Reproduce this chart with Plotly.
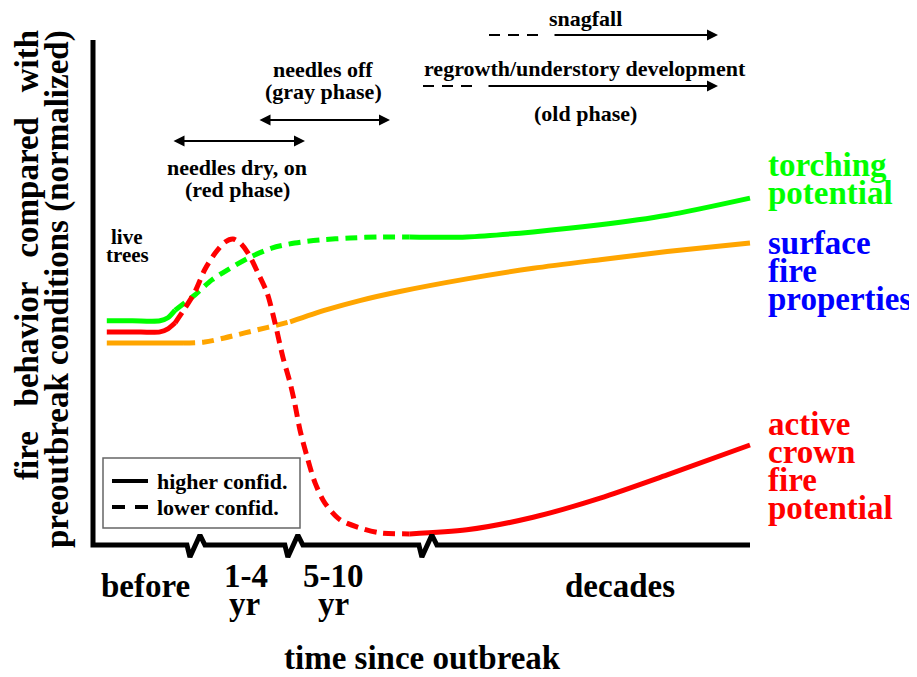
import plotly.graph_objects as go

FONT = "Liberation Serif"
GREEN = "#00ff00"
ORANGE = "#ffa500"
RED = "#ff0000"
BLUE = "#0000ff"

# ---------------- data (time axis 0-100 = before .. decades, y normalized 0-100) -------------
# torching potential (green)
torch_x_solid1 = [2.1, 6.0, 10.2, 11.4, 12.5]
torch_y_solid1 = [44.4, 44.4, 44.4, 45.0, 46.5]
torch_x_dash = [12.5, 15.5, 18.1, 20.5, 23.6, 27.2, 30.7, 34.6, 39.1, 43.7, 48.2]
torch_y_dash = [46.5, 49.5, 52.5, 54.5, 56.8, 58.8, 59.8, 60.4, 60.8, 61.0, 61.0]
torch_x_solid2 = [48.2, 56.9, 67.0, 77.2, 87.4, 100.0]
torch_y_solid2 = [61.0, 61.0, 62.0, 63.4, 65.3, 68.7]

# active crown fire potential (red)
crown_x_solid1 = [2.1, 6.0, 10.2, 11.4, 12.5]
crown_y_solid1 = [42.2, 42.2, 42.2, 42.8, 44.0]
crown_x_dash = [12.5, 14.0, 15.5, 17.0, 18.6, 20.1, 21.3, 22.4, 23.6, 25.1, 26.5, 27.7,
                28.9, 30.0, 30.7, 31.5, 32.6, 33.8, 35.3, 37.6, 40.6, 43.7, 48.2]
crown_y_dash = [44.0, 46.9, 50.1, 54.5, 57.8, 60.0, 60.6, 59.8, 57.8, 53.9, 49.9, 44.0,
                37.2, 32.1, 28.1, 22.8, 17.4, 12.3, 8.3, 5.0, 3.4, 2.4, 2.2]
crown_x_solid2 = [48.2, 56.9, 67.0, 77.2, 87.4, 100.0]
crown_y_solid2 = [2.2, 3.0, 5.5, 9.3, 13.9, 19.8]

# surface fire properties (orange)
surf_x_solid1 = [2.1, 8.0, 13.7]
surf_y_solid1 = [40.0, 40.0, 40.0]
surf_x_dash = [13.7, 17.0, 20.0, 23.1, 26.6, 30.0]
surf_y_dash = [40.0, 40.2, 41.0, 42.0, 43.1, 44.2]
surf_x_solid2 = [30.0, 35.6, 40.6, 46.7, 56.9, 67.0, 77.2, 87.4, 100.0]
surf_y_solid2 = [44.2, 46.6, 48.4, 50.2, 52.7, 54.8, 56.5, 58.1, 59.8]

# x-axis breaks (start of each zigzag)
break_x = [14.3, 29.2, 49.6]

period_labels = [("before",), ("1-4", "yr"), ("5-10", "yr"), ("decades",)]

# ---------------- layout helpers ----------------
# page body has an 8px margin; the figure covers window pixels 8..917 x 8..669
OFF = 8
FIG_W = 917 - OFF
FIG_H = 677 - 2 * OFF
XR = [(OFF - 93) / 6.57, (OFF + FIG_W - 93) / 6.57]
YR = [(545 - (OFF + FIG_H)) / 5.05, (545 - OFF) / 5.05]


def fx(px):
    return (px - 93) / 6.57


def fy(py):
    return (545 - py) / 5.05


fig = go.Figure()


def seg(x, y, color, dashed):
    fig.add_trace(go.Scatter(
        x=x, y=y, mode="lines",
        line=dict(color=color, width=5, dash="12px,7px" if dashed else "solid",
                  shape="spline", smoothing=0.8),
        hoverinfo="skip", showlegend=False))


seg(surf_x_solid1, surf_y_solid1, ORANGE, False)
seg(surf_x_dash, surf_y_dash, ORANGE, True)
seg(surf_x_solid2, surf_y_solid2, ORANGE, False)
seg(torch_x_solid1, torch_y_solid1, GREEN, False)
seg(torch_x_dash, torch_y_dash, GREEN, True)
seg(torch_x_solid2, torch_y_solid2, GREEN, False)
seg(crown_x_solid1, crown_y_solid1, RED, False)
seg(crown_x_dash, crown_y_dash, RED, True)
seg(crown_x_solid2, crown_y_solid2, RED, False)

# axes with break marks
ax_x = [0, 0]
ax_y = [100, 0]
for b in break_x:
    ax_x += [b, b + 0.46, b + 1.98, b + 2.74]
    ax_y += [0, -2.38, 1.98, 0]
ax_x.append(100)
ax_y.append(0)
fig.add_trace(go.Scatter(x=ax_x, y=ax_y, mode="lines",
                         line=dict(color="black", width=5),
                         hoverinfo="skip", showlegend=False))

shapes = []
# legend box
shapes.append(dict(type="rect", xref="x", yref="y", x0=fx(103), x1=fx(300),
                   y0=fy(528), y1=fy(458), line=dict(color="#666666", width=1.5)))
shapes.append(dict(type="line", xref="x", yref="y", x0=fx(112), x1=fx(148),
                   y0=fy(481), y1=fy(481), line=dict(color="black", width=4)))
shapes.append(dict(type="line", xref="x", yref="y", x0=fx(112), x1=fx(148),
                   y0=fy(507), y1=fy(507), line=dict(color="black", width=4, dash="13px,10px")))
# dashed lead-ins of the long arrows
shapes.append(dict(type="line", xref="x", yref="y", x0=fx(489), x1=fx(540),
                   y0=fy(35), y1=fy(35), line=dict(color="black", width=2, dash="11px,8px")))
shapes.append(dict(type="line", xref="x", yref="y", x0=fx(423), x1=fx(473),
                   y0=fy(86), y1=fy(86), line=dict(color="black", width=2, dash="11px,8px")))

annotations = []


def txt(text, px, py, size, color="black", xanchor="center", yanchor="middle", angle=0):
    annotations.append(dict(text="<b>%s</b>" % text, x=fx(px), y=fy(py), xref="x", yref="y",
                            showarrow=False, xanchor=xanchor, yanchor=yanchor, textangle=angle,
                            font=dict(family=FONT, size=size, color=color)))


def arrow(px0, px1, py, both):
    annotations.append(dict(x=fx(px1), y=fy(py), ax=fx(px0), ay=fy(py), xref="x", yref="y",
                            axref="x", ayref="y", text="", showarrow=True,
                            arrowhead=2, startarrowhead=2, arrowsize=1.1, startarrowsize=1.1,
                            arrowwidth=2, arrowcolor="black",
                            arrowside="end+start" if both else "end"))


# right-side labels
for i, t in enumerate(["torching", "potential"]):
    txt(t, 766, 165 + 28 * i, 33, GREEN, "left")
for i, t in enumerate(["surface", "fire", "properties"]):
    txt(t, 766, 243 + 28 * i, 33, BLUE, "left")
for i, t in enumerate(["active", "crown", "fire", "potential"]):
    txt(t, 766, 424 + 28 * i, 33, RED, "left")

# x period labels
txt(period_labels[0][0], 145, 586, 33)
txt(period_labels[1][0], 246, 576, 33)
txt(period_labels[1][1], 244, 604, 33)
txt(period_labels[2][0], 333, 576, 33)
txt(period_labels[2][1], 333, 604, 33)
txt(period_labels[3][0], 620, 586, 33)
txt("time since outbreak", 422, 658, 33)

# y title (two lines, both ending at the top)
NB = "\u00a0\u00a0"
txt("fire " + NB + "behavior " + NB + "compared " + NB + "with", 27, 28, 33, yanchor="top", angle=-90)
txt("preoutbreak conditions (normalized)", 57, 28, 33, yanchor="top", angle=-90)

# live trees
txt("live", 127, 237, 21)
txt("trees", 127, 255, 21)

# phase labels
txt("needles dry, on", 237, 167, 22)
txt("(red phase)", 237, 189, 22)
arrow(172, 305, 141, True)
txt("needles off", 323, 69, 22)
txt("(gray phase)", 323, 91, 22)
arrow(258, 390, 120, True)
txt("snagfall", 585, 18, 22)
arrow(553, 718, 35, False)
txt("regrowth/understory development", 585, 68, 22)
arrow(487, 718, 86, False)
txt("(old phase)", 585, 113, 22)

# legend texts
txt("higher confid.", 155, 481, 22, xanchor="left")
txt("lower confid.", 155, 507, 22, xanchor="left")

fig.update_layout(
    width=FIG_W, height=FIG_H,
    margin=dict(l=0, r=0, t=0, b=0, pad=0),
    paper_bgcolor="white", plot_bgcolor="white",
    xaxis=dict(range=XR, visible=False, fixedrange=True),
    yaxis=dict(range=YR, visible=False, fixedrange=True),
    shapes=shapes, annotations=annotations,
    showlegend=False,
)

fig.write_html("out.html")
